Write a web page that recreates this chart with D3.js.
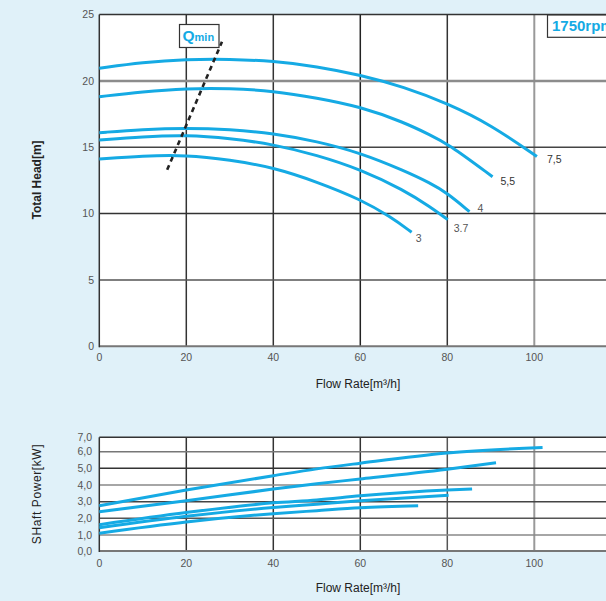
<!DOCTYPE html>
<html><head><meta charset="utf-8">
<script src="https://cdn.jsdelivr.net/npm/d3@7"></script>
<style>
html,body{margin:0;padding:0;background:#e0f1f9;overflow:hidden}
svg{display:block}
text{font-family:"Liberation Sans",Arial,Helvetica,sans-serif}
</style></head>
<body><svg id="c" width="606" height="601"></svg>
<script>
// ---------- data ----------
const flowTicks = [0, 20, 40, 60, 80, 100, 120];
const flowTickLabels = ["0", "20", "40", "60", "80", "100", ""];
const headTicks = [0, 5, 10, 15, 20, 25];
const powerTicks = [0, 1, 2, 3, 4, 5, 6, 7];
const powerTickLabels = ["0,0", "1,0", "2,0", "3,0", "4,0", "5,0", "6,0", "7,0"];
const motorLabels = ["3", "3.7", "4", "5,5", "7,5"];

// Total head curves (flow m3/h, head m)
const headFlow3  = [0, 10, 20, 30, 40, 50, 60, 66.9, 71.8];
const head3      = [14.11, 14.35, 14.42, 14.05, 13.49, 12.4, 11.08, 9.77, 8.6];
const headFlow37 = [0, 10, 20, 30, 40, 50, 60, 70, 76.1, 80.1];
const head37     = [15.55, 15.8, 15.92, 15.68, 15.22, 14.42, 13.34, 11.78, 10.5, 9.55];
const headFlow4  = [0, 10, 20, 30, 40, 50, 60, 70, 76.1, 80, 85.1];
const head4      = [16.1, 16.35, 16.45, 16.35, 16.05, 15.45, 14.58, 13.25, 12.3, 11.55, 10.15];
const headFlow55 = [0, 10, 20, 30, 40, 50, 60, 70, 76.1, 80, 90.4];
const head55     = [18.81, 19.2, 19.44, 19.45, 19.24, 18.72, 18.06, 16.89, 15.92, 15.3, 12.78];
const headFlow75 = [0, 10, 20, 30, 40, 50, 60, 70, 80, 90, 100.6];
const head75     = [20.95, 21.4, 21.63, 21.65, 21.5, 21.1, 20.45, 19.55, 18.31, 16.7, 14.3];

// Qmin line
const qminFlow = [15.6, 28.2];
const qminHead = [13.3, 22.95];

// Shaft power curves (flow m3/h, kW)
const powFlow3  = [0, 20, 40, 50, 60, 73.3];
const pow3      = [1.11, 1.78, 2.28, 2.46, 2.63, 2.75];
const powFlow37 = [0, 20, 40, 50, 60, 80.3];
const pow37     = [1.44, 2.12, 2.65, 2.85, 3.05, 3.39];
const powFlow4  = [0, 20, 40, 50, 60, 80, 85.7];
const pow4      = [1.62, 2.35, 2.93, 3.1, 3.35, 3.70, 3.76];
const powFlow55 = [0, 20, 40, 50, 60, 80, 91.2];
const pow55     = [2.4, 3.05, 3.76, 4.08, 4.36, 4.95, 5.33];
const powFlow75 = [0, 20, 40, 50, 60, 80, 101.9];
const pow75     = [2.75, 3.70, 4.56, 4.97, 5.31, 5.92, 6.30];

const speedLabel = "1750rpm";

// ---------- drawing ----------
const svg = d3.select("#c");
const BLUE = "#15aae4";
const zip = (xs, ys) => xs.map((x, i) => [x, ys[i]]);
const headSeries = [zip(headFlow3, head3), zip(headFlow37, head37), zip(headFlow4, head4), zip(headFlow55, head55), zip(headFlow75, head75)];
const powSeries = [zip(powFlow3, pow3), zip(powFlow37, pow37), zip(powFlow4, pow4), zip(powFlow55, pow55), zip(powFlow75, pow75)];

const x = d3.scaleLinear().domain([0, 120]).range([99.3, 621.3]);
const yH = d3.scaleLinear().domain([0, 25]).range([346.3, 14.6]);
const yP = d3.scaleLinear().domain([0, 1, 6, 7]).range([551, 535, 451.7, 437.3]);

function panel(y, yTicks, yLabels, hStyle, vStyle, xLabelY, yLabelX) {
  const g = svg.append("g");
  const [y0, y1] = [y(yTicks[0]), y(yTicks[yTicks.length - 1])];
  g.append("rect").attr("x", x(0)).attr("y", y1).attr("width", x(120) - x(0)).attr("height", y0 - y1).attr("fill", "#fff");
  g.selectAll(".v").data(flowTicks.slice(1)).join("line")
    .attr("x1", d => x(d)).attr("x2", d => x(d)).attr("y1", y0).attr("y2", y1)
    .attr("stroke", (d, i) => vStyle[i][0]).attr("stroke-width", (d, i) => vStyle[i][1]);
  g.selectAll(".h").data(yTicks).join("line")
    .attr("x1", x(0)).attr("x2", x(120)).attr("y1", d => y(d)).attr("y2", d => y(d))
    .attr("stroke", (d, i) => hStyle[i][0]).attr("stroke-width", (d, i) => hStyle[i][1]);
  g.append("line").attr("x1", x(0)).attr("x2", x(0)).attr("y1", y0 + 1).attr("y2", y1)
    .attr("stroke", "#333").attr("stroke-width", 1.5);
  g.selectAll(".yl").data(yTicks).join("text")
    .attr("x", yLabelX).attr("y", d => y(d)).attr("dy", "0.36em").attr("text-anchor", "end")
    .attr("font-size", 10.5).attr("fill", "#555").text((d, i) => yLabels[i]);
  g.selectAll(".xl").data(flowTicks.filter((d, i) => flowTickLabels[i] !== "")).join("text")
    .attr("x", d => x(d)).attr("y", xLabelY).attr("text-anchor", "middle")
    .attr("font-size", 10.5).attr("fill", "#555").text((d, i) => flowTickLabels[i]);
  return g;
}

// ---- top panel ----
panel(yH, headTicks, headTicks.map(String),
  [["#777", 2], ["#555", 1.5], ["#333", 1.5], ["#444", 1.5], ["#8c8c8c", 2.5], ["#333", 1.5]],
  [["#333", 1.5], ["#333", 1.5], ["#222", 1.5], ["#333", 1.5], ["#999", 2], ["#333", 1.5]],
  360.5, 94);

const lineH = d3.line().x(d => x(d[0])).y(d => yH(d[1])).curve(d3.curveBasis);
svg.append("g").selectAll("path").data(headSeries).join("path")
  .attr("d", lineH).attr("fill", "none").attr("stroke", BLUE).attr("stroke-width", 3);

const labOff = [[4, 10], [6, 12], [8, 0], [8, 8], [10, 6]];
svg.append("g").selectAll("text").data(headSeries).join("text")
  .attr("x", (d, i) => x(d[d.length - 1][0]) + labOff[i][0])
  .attr("y", (d, i) => yH(d[d.length - 1][1]) + labOff[i][1])
  .attr("font-size", 10.5).attr("fill", (d, i) => i >= 3 ? "#333" : "#555")
  .text((d, i) => motorLabels[i]);

svg.append("path").datum(zip(qminFlow, qminHead))
  .attr("d", d3.line().x(d => x(d[0])).y(d => yH(d[1])))
  .attr("stroke", "#222").attr("stroke-width", 2.6).attr("stroke-dasharray", "5,4").attr("fill", "none");

const qb = svg.append("g");
qb.append("rect").attr("x", 179.5).attr("y", 24.5).attr("width", 39.5).attr("height", 23)
  .attr("fill", "#fff").attr("stroke", "#333").attr("stroke-width", 1.2);
const qt = qb.append("text").attr("x", 182.5).attr("y", 40.7).attr("fill", BLUE).attr("font-weight", "bold");
qt.append("tspan").attr("font-size", 15.5).text("Q");
qt.append("tspan").attr("font-size", 11).text("min");

svg.append("rect").attr("x", 547.5).attr("y", 15).attr("width", 80).attr("height", 22.3)
  .attr("fill", "#fff").attr("stroke", "#333").attr("stroke-width", 1.2);
svg.append("text").attr("x", 552).attr("y", 30.8).attr("font-size", 15).attr("font-weight", "bold")
  .attr("fill", BLUE).text(speedLabel);

svg.append("text").attr("transform", "translate(41,180) rotate(-90)").attr("text-anchor", "middle")
  .attr("font-size", 12).attr("font-weight", "bold").attr("fill", "#222").text("Total Head[m]");
svg.append("text").attr("x", 358).attr("y", 387.5).attr("text-anchor", "middle")
  .attr("font-size", 12).attr("fill", "#222").text("Flow Rate[m³/h]");

// ---- bottom panel ----
panel(yP, powerTicks, powerTickLabels,
  [["#777", 2], ["#888", 1.5], ["#555", 1.5], ["#444", 1.5], ["#888", 1.5], ["#333", 1.5], ["#777", 1.5], ["#333", 1.5]],
  [["#333", 1.5], ["#333", 1.5], ["#333", 1.5], ["#555", 1.5], ["#999", 2], ["#333", 1.5]],
  566.5, 92);

const lineP = d3.line().x(d => x(d[0])).y(d => yP(d[1])).curve(d3.curveMonotoneX);
svg.append("g").selectAll("path").data(powSeries).join("path")
  .attr("d", lineP).attr("fill", "none").attr("stroke", BLUE).attr("stroke-width", 3);

svg.append("text").attr("transform", "translate(41,494) rotate(-90)").attr("text-anchor", "middle")
  .attr("font-size", 12).attr("letter-spacing", 0.6).attr("fill", "#222").text("SHaft Power[kW]");
svg.append("text").attr("x", 358).attr("y", 591.5).attr("text-anchor", "middle")
  .attr("font-size", 12).attr("fill", "#222").text("Flow Rate[m³/h]");
</script></body></html>
